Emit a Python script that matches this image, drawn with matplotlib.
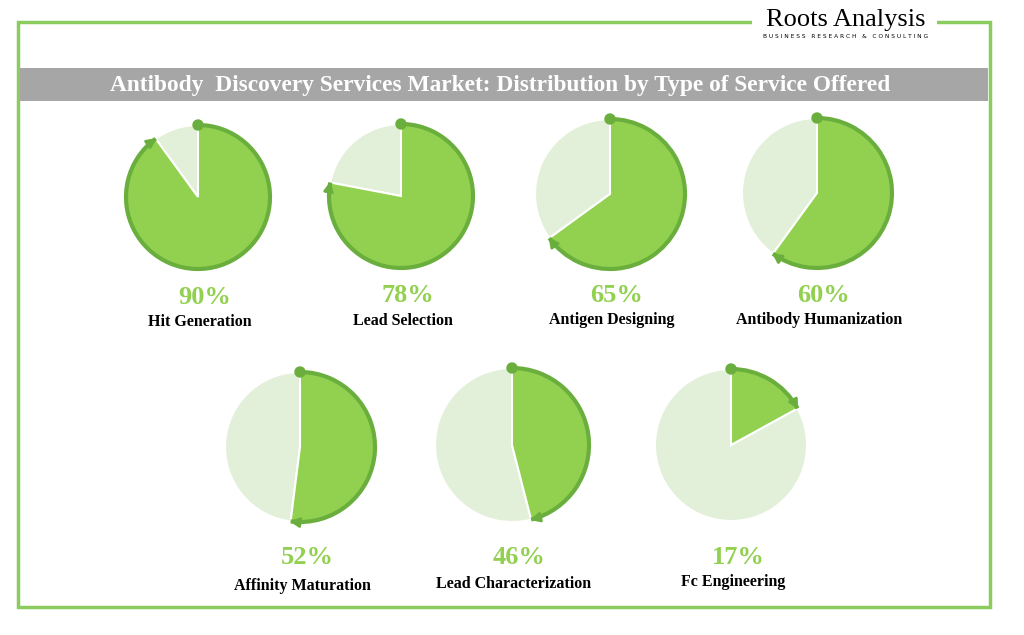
import numpy as np
import matplotlib.pyplot as plt
from matplotlib.patches import Wedge, Arc, Rectangle, Circle

services = ["Hit Generation", "Lead Selection", "Antigen Designing", "Antibody Humanization",
            "Affinity Maturation", "Lead Characterization", "Fc Engineering"]
shares = [90, 78, 65, 60, 52, 46, 17]

W, H = 1024, 635
fig = plt.figure(figsize=(W / 100, H / 100), dpi=100)
ax = fig.add_axes([0, 0, 1, 1])
ax.set_xlim(0, W)
ax.set_ylim(0, H)
ax.axis("off")

def Y(y):
    return H - y

green = "#92D050"
light = "#E2EFD9"
edge = "#6AAF3D"
serif = "Liberation Serif"

# frame and title bar
ax.add_patch(Rectangle((18, Y(607)), 972, 585, fill=False, ec="#8CCB5E", lw=2.5))
ax.add_patch(Rectangle((20, Y(101)), 968, 33, fc="#A6A6A6", ec="none"))
ax.text(500, Y(85), "Antibody  Discovery Services Market: Distribution by Type of Service Offered",
        ha="center", va="center", color="white", fontsize=16.8, fontweight="bold", family=serif)

# logo
ax.add_patch(Rectangle((752, Y(42)), 185, 40, fc="white", ec="none"))
ax.text(846, Y(20), "Roots Analysis", ha="center", va="center", fontsize=19, family=serif)
ax.text(846, Y(37), "B U S I N E S S   R E S E A R C H   &   C O N S U L T I N G",
        ha="center", va="center", fontsize=4.2, family="DejaVu Sans")

centers = [(198, 197), (401, 196), (610, 194), (817, 193), (300, 447), (512, 445), (731, 445)]
radii = [72, 72, 75, 75, 75, 77, 76]
pct_y = [297, 296, 295, 296, 557, 557, 557]
name_y = [322, 321, 320, 320, 586, 584, 582]

for name, p, (cx, cy), r, py, ny in zip(services, shares, centers, radii, pct_y, name_y):
    c = (cx, Y(cy))
    t1 = 90 - 360 * p / 100
    ax.add_patch(Wedge(c, r, 90, 90 + 360 * (1 - p / 100), fc=light, ec="white", lw=1.5))
    ax.add_patch(Wedge(c, r, t1, 90, fc=green, ec="white", lw=1.5))
    ax.add_patch(Arc(c, 2 * r, 2 * r, theta1=t1, theta2=90, color=edge, lw=3))
    ax.add_patch(Circle((cx, Y(cy) + r), 5, color=edge))
    a = np.radians(t1)
    ex, ey = cx + r * np.cos(a), Y(cy) + r * np.sin(a)
    dx, dy = np.sin(a), -np.cos(a)  # clockwise tangent
    ax.annotate("", xy=(ex + dx * 4, ey + dy * 4), xytext=(ex - dx * 6, ey - dy * 6),
                arrowprops=dict(arrowstyle="-|>", color=edge, lw=2, mutation_scale=14))
    ax.text(cx + 7, Y(py), f"{p}%", ha="center", va="center", color=green,
            fontsize=19, fontweight="bold", family=serif)
    ax.text(cx + 2, Y(ny), name, ha="center", va="center", color="black",
            fontsize=11.5, fontweight="bold", family=serif)

fig.savefig("out.png", dpi=100, facecolor="white")
